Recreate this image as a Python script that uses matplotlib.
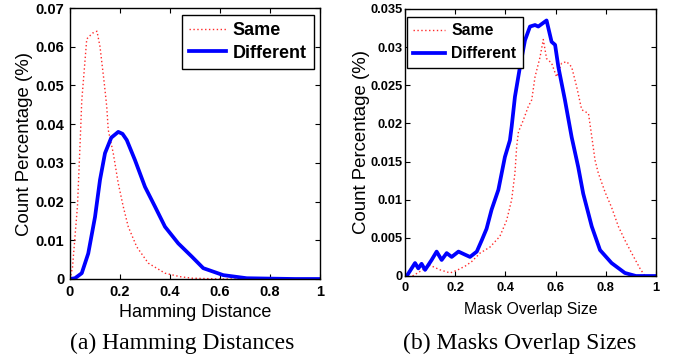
import matplotlib
matplotlib.use('Agg')
import matplotlib.pyplot as plt
from matplotlib import font_manager

# (a) Hamming distances
ham_same_x = [0.0, 0.01, 0.03, 0.041, 0.047, 0.067, 0.09, 0.108, 0.12, 0.137, 0.147, 0.153,
              0.173, 0.193, 0.213, 0.233, 0.267, 0.313, 0.38, 0.44, 0.49, 0.55, 0.6, 0.68]
ham_same_y = [0.0, 0.003, 0.019, 0.036, 0.046, 0.062, 0.0635, 0.064, 0.060, 0.0506, 0.0445, 0.0385,
              0.0325, 0.0247, 0.0187, 0.0135, 0.0083, 0.0041, 0.0015, 0.0006, 0.0002, 0.0001, 0.0, 0.0]
ham_diff_x = [0.0, 0.02, 0.047, 0.073, 0.1, 0.12, 0.14, 0.165, 0.193, 0.21, 0.227, 0.26, 0.30,
              0.34, 0.38, 0.433, 0.487, 0.533, 0.613, 0.707, 0.8, 0.9, 1.0]
ham_diff_y = [0.0, 0.0002, 0.0015, 0.0066, 0.016, 0.0256, 0.0325, 0.0365, 0.038, 0.0375, 0.0359, 0.0307, 0.0238,
              0.0187, 0.0135, 0.0092, 0.0058, 0.0028, 0.001, 0.0002, 0.0001, 0.0, 0.0]

# (b) mask overlap sizes
mask_same_x = [0.03, 0.06, 0.1, 0.14, 0.18, 0.21, 0.24, 0.266, 0.299, 0.339, 0.378, 0.405, 0.425,
               0.438, 0.445, 0.452, 0.471, 0.491, 0.505, 0.518, 0.538, 0.551, 0.564, 0.584, 0.604,
               0.624, 0.644, 0.664, 0.684, 0.704, 0.731, 0.744, 0.757, 0.77, 0.797, 0.823, 0.85,
               0.876, 0.903, 0.936, 0.956]
mask_same_y = [0.0, 0.0006, 0.0014, 0.0008, 0.0004, 0.0008, 0.0013, 0.0019, 0.003, 0.0038, 0.0052, 0.0073, 0.010,
               0.0135, 0.017, 0.0189, 0.0204, 0.0222, 0.0231, 0.0261, 0.0287, 0.031, 0.0285, 0.0279, 0.0261,
               0.0279, 0.0281, 0.0274, 0.0248, 0.0218, 0.0213, 0.0183, 0.0152, 0.0135, 0.011, 0.009, 0.0065,
               0.0047, 0.003, 0.001, 0.0]
mask_diff_x = [0.0, 0.007, 0.04, 0.053, 0.066, 0.08, 0.106, 0.126, 0.146, 0.166, 0.186, 0.213, 0.239,
               0.259, 0.286, 0.306, 0.325, 0.345, 0.372, 0.398, 0.418, 0.425, 0.438, 0.458, 0.478,
               0.498, 0.518, 0.531, 0.564, 0.584, 0.598, 0.611, 0.637, 0.664, 0.69, 0.71, 0.744,
               0.777, 0.823, 0.876, 0.92, 1.0]
mask_diff_y = [0.0, 0.0, 0.0017, 0.001, 0.0016, 0.0008, 0.0021, 0.0032, 0.0021, 0.003, 0.0025, 0.0032, 0.0028,
               0.0025, 0.0032, 0.0047, 0.0062, 0.0087, 0.0113, 0.0156, 0.0178, 0.0196, 0.0235, 0.0274, 0.0309,
               0.0327, 0.0329, 0.0327, 0.0335, 0.0307, 0.0303, 0.0274, 0.0231, 0.0182, 0.0143, 0.0108, 0.0065,
               0.0034, 0.0017, 0.0004, 0.0, 0.0]

ham_yticks = [0, 0.01, 0.02, 0.03, 0.04, 0.05, 0.06, 0.07]
ham_ylabels = ['0', '0.01', '0.02', '0.03', '0.04', '0.05', '0.06', '0.07']
mask_yticks = [0, 0.005, 0.01, 0.015, 0.02, 0.025, 0.03, 0.035]
mask_ylabels = ['0', '0.005', '0.01', '0.015', '0.02', '0.025', '0.03', '0.035']
xticks = [0, 0.2, 0.4, 0.6, 0.8, 1]
xticklabels = ['0', '0.2', '0.4', '0.6', '0.8', '1']

RED = '#ff2a2a'
BLUE = '#0000ff'
SANS = ['Liberation Sans', 'DejaVu Sans']

# right panel uses a narrow face in the original; shrink a bit if none is installed
installed = {f.name for f in font_manager.fontManager.ttflist}
if 'Liberation Sans Narrow' in installed:
    NARROW = ['Liberation Sans Narrow', 'Liberation Sans']
    shrink = 1.0
else:
    NARROW = SANS
    shrink = 0.88

fig = plt.figure(figsize=(6.81, 3.6), dpi=100)
ax1 = fig.add_axes([70 / 681, 81 / 360, 250 / 681, 271 / 360])
ax2 = fig.add_axes([405 / 681, 84 / 360, 251 / 681, 267 / 360])


def style_axes(ax, yticks, ylabels, family, size, ypad):
    ax.set_xlim(0, 1)
    ax.set_ylim(yticks[0], yticks[-1])
    ax.set_xticks(xticks)
    ax.set_xticklabels(xticklabels, fontweight='bold', fontsize=size, family=family)
    ax.set_yticks(yticks)
    ax.set_yticklabels(ylabels, fontweight='bold', fontsize=size, family=family)
    ax.tick_params(direction='in', length=3.5, width=0.8, top=True, right=True, pad=4)
    ax.tick_params(axis='y', pad=ypad)
    for s in ax.spines.values():
        s.set_linewidth(1.0)


leg_kw = dict(borderaxespad=0, fancybox=False, edgecolor='black', framealpha=1,
              handlelength=2.0, handletextpad=0.4, borderpad=0.4)

# (a)
ax1.plot(ham_same_x, ham_same_y, color=RED, lw=1.0, ls=(0, (1, 1.8)), label='Same')
ax1.plot(ham_diff_x, ham_diff_y, color=BLUE, lw=2.7, label='Different')
style_axes(ax1, ham_yticks, ham_ylabels, SANS, 10.5, 4)
ax1.set_xlabel('Hamming Distance', fontsize=13, family=SANS, labelpad=4)
ax1.set_ylabel('Count Percentage (%)', fontsize=13.4, family=SANS)
ax1.yaxis.set_label_coords(-0.148, 0.5)
ax1.legend(loc='upper right', bbox_to_anchor=(0.976, 0.974), labelspacing=0.3,
           prop={'family': SANS, 'weight': 'bold', 'size': 13}, **leg_kw)

# (b)
ax2.plot(mask_same_x, mask_same_y, color=RED, lw=1.0, ls=(0, (1, 1.8)), label='Same')
ax2.plot(mask_diff_x, mask_diff_y, color=BLUE, lw=2.7, label='Different')
style_axes(ax2, mask_yticks, mask_ylabels, NARROW, 10.5 * shrink, 1.5)
ax2.set_xlabel('Mask Overlap Size', fontsize=13 * shrink, family=NARROW, labelpad=6)
ax2.set_ylabel('Count Percentage (%)', fontsize=13.4, family=NARROW)
ax2.yaxis.set_label_coords(-0.139, 0.5)
ax2.legend(loc='upper left', bbox_to_anchor=(0.008, 0.970), labelspacing=0.5,
           prop={'family': NARROW, 'weight': 'bold', 'size': 13 * shrink}, **leg_kw)

fig.text(182 / 681, 1 - 343 / 360, '(a) Hamming Distances', ha='center', va='center',
         fontsize=17, family='Liberation Serif')
fig.text(520 / 681, 1 - 343 / 360, '(b) Masks Overlap Sizes', ha='center', va='center',
         fontsize=17, family='Liberation Serif')

fig.savefig('out.png', dpi=100)
plt.close(fig)
